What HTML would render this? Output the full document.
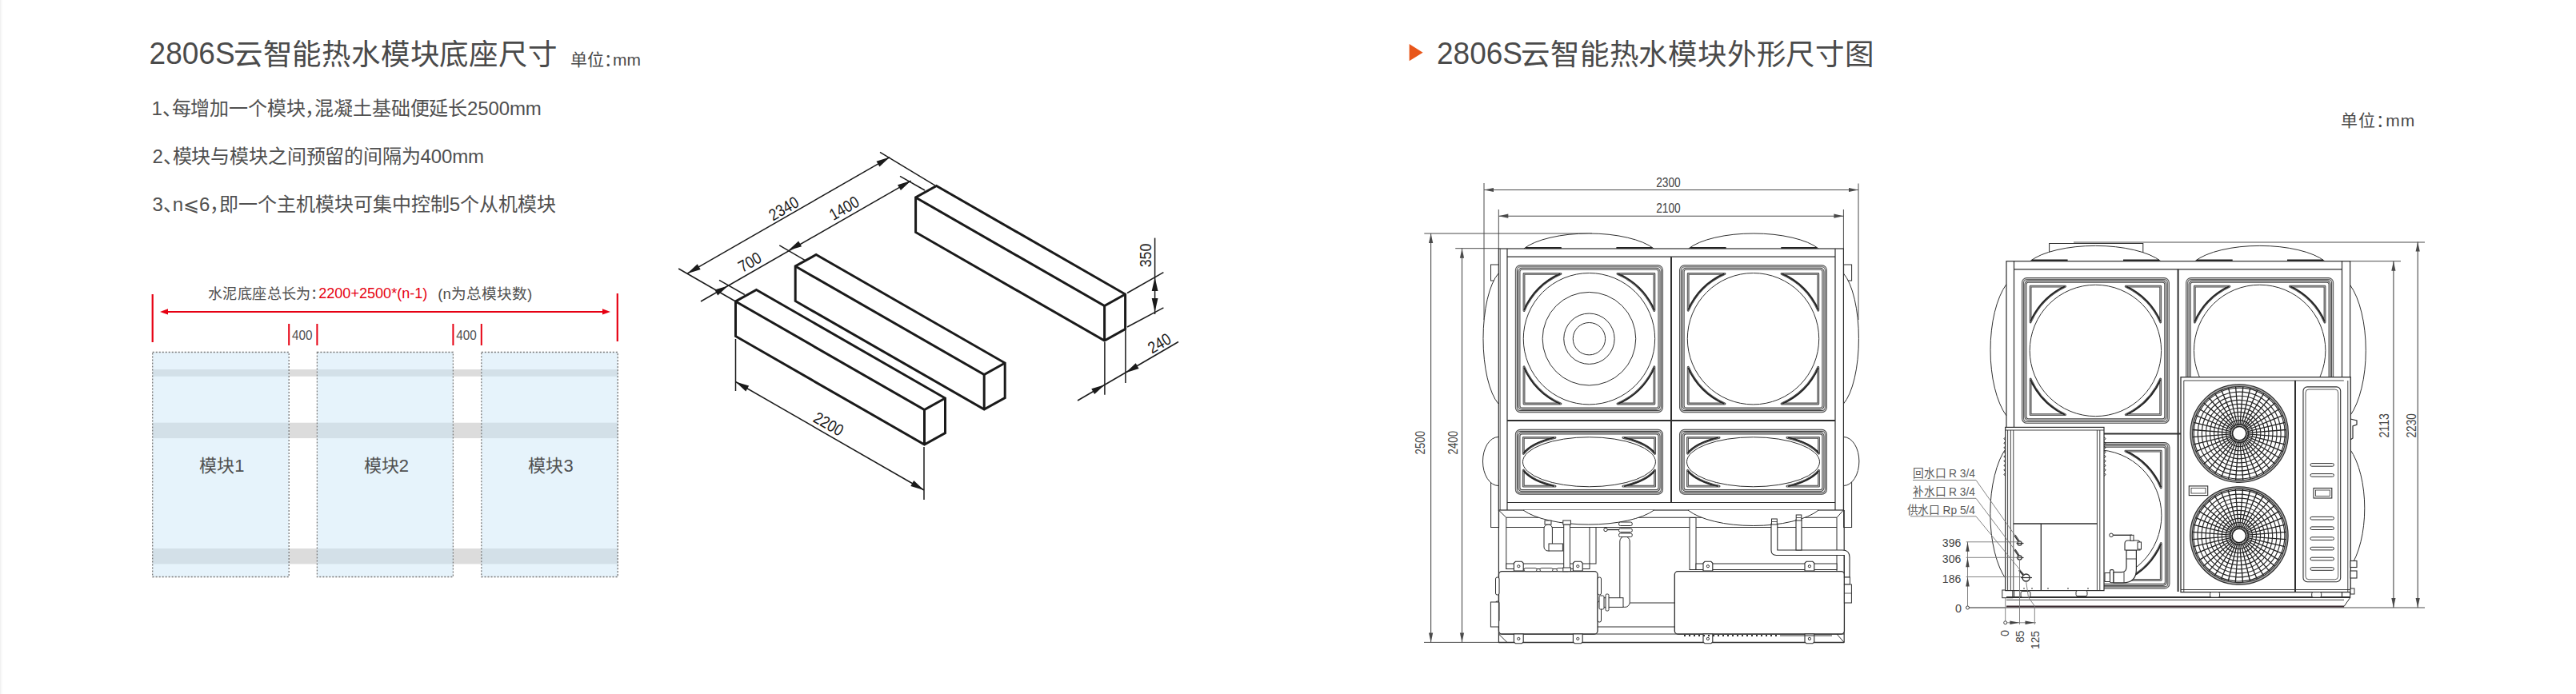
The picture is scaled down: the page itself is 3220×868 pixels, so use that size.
<!DOCTYPE html>
<html lang="zh-CN"><head><meta charset="utf-8"><title>2806S</title>
<style>html,body{margin:0;padding:0;background:#fff;width:3220px;height:868px;overflow:hidden}
svg{position:absolute;left:0;top:0;font-family:"Liberation Sans",sans-serif}</style></head>
<body><svg width="3220" height="868" viewBox="0 0 3220 868">
<rect x="0" y="0" width="1" height="868" rx="0" stroke="none" stroke-width="0" fill="#f1f1f1"/>
<rect x="1" y="0" width="2" height="868" rx="0" stroke="none" stroke-width="0" fill="#f9f9f9"/>
<g style="font-feature-settings:'halt'">
<text x="186.6" y="79.9" font-size="39.6" fill="#4a4a4a" text-anchor="start" textLength="107" lengthAdjust="spacingAndGlyphs">2806S</text>
<text x="291.8" y="81" font-size="36.5" fill="#4a4a4a" text-anchor="start" textLength="404">云智能热水模块底座尺寸</text>
<text x="713" y="82" font-size="21" fill="#4a4a4a" text-anchor="start">单位：mm</text>
<text x="189.5" y="144" font-size="24" fill="#505050" text-anchor="start" textLength="487.3">1、每增加一个模块，混凝土基础便延长2500mm</text>
<text x="190.5" y="204" font-size="24" fill="#505050" text-anchor="start" textLength="414.6">2、模块与模块之间预留的间隔为400mm</text>
<text x="190.5" y="264" font-size="24" fill="#505050" text-anchor="start" textLength="504.4">3、n⩽6，即一个主机模块可集中控制5个从机模块</text>
<text x="1796" y="79.9" font-size="39.6" fill="#4a4a4a" text-anchor="start" textLength="107" lengthAdjust="spacingAndGlyphs">2806S</text>
<text x="1901.4" y="81" font-size="36.5" fill="#4a4a4a" text-anchor="start" textLength="440.5">云智能热水模块外形尺寸图</text>
<text x="2926" y="157.5" font-size="21" fill="#4a4a4a" text-anchor="start" textLength="92.3">单位：mm</text>
</g>
<polygon points="1761.6,55.1 1778.6,65.7 1761.6,76.3" stroke="none" stroke-width="0" fill="#e8561a"/>
<rect x="361.2" y="462" width="35.2" height="8.8" rx="0" stroke="none" stroke-width="0" fill="#dcdcdc"/>
<rect x="361.2" y="528.7" width="35.2" height="19.4" rx="0" stroke="none" stroke-width="0" fill="#dcdcdc"/>
<rect x="361.2" y="686" width="35.2" height="19.4" rx="0" stroke="none" stroke-width="0" fill="#dcdcdc"/>
<rect x="566.4" y="462" width="35.4" height="8.8" rx="0" stroke="none" stroke-width="0" fill="#dcdcdc"/>
<rect x="566.4" y="528.7" width="35.4" height="19.4" rx="0" stroke="none" stroke-width="0" fill="#dcdcdc"/>
<rect x="566.4" y="686" width="35.4" height="19.4" rx="0" stroke="none" stroke-width="0" fill="#dcdcdc"/>
<rect x="190.7" y="440.5" width="170.5" height="281" rx="0" stroke="none" stroke-width="0" fill="#e6f3fb"/>
<rect x="190.7" y="462" width="170.5" height="8.8" rx="0" stroke="none" stroke-width="0" fill="#d3e0e8"/>
<rect x="190.7" y="528.7" width="170.5" height="19.4" rx="0" stroke="none" stroke-width="0" fill="#d3e0e8"/>
<rect x="190.7" y="686" width="170.5" height="19.4" rx="0" stroke="none" stroke-width="0" fill="#d3e0e8"/>
<rect x="190.7" y="440.5" width="170.5" height="281" rx="0" stroke="#7a7a7a" stroke-width="1.3" fill="none" stroke-dasharray="2.1,1.9"/>
<text x="277.45" y="590.3" font-size="22" fill="#505050" text-anchor="middle">模块1</text>
<rect x="396.4" y="440.5" width="170" height="281" rx="0" stroke="none" stroke-width="0" fill="#e6f3fb"/>
<rect x="396.4" y="462" width="170" height="8.8" rx="0" stroke="none" stroke-width="0" fill="#d3e0e8"/>
<rect x="396.4" y="528.7" width="170" height="19.4" rx="0" stroke="none" stroke-width="0" fill="#d3e0e8"/>
<rect x="396.4" y="686" width="170" height="19.4" rx="0" stroke="none" stroke-width="0" fill="#d3e0e8"/>
<rect x="396.4" y="440.5" width="170" height="281" rx="0" stroke="#7a7a7a" stroke-width="1.3" fill="none" stroke-dasharray="2.1,1.9"/>
<text x="482.9" y="590.3" font-size="22" fill="#505050" text-anchor="middle">模块2</text>
<rect x="601.8" y="440.5" width="170.4" height="281" rx="0" stroke="none" stroke-width="0" fill="#e6f3fb"/>
<rect x="601.8" y="462" width="170.4" height="8.8" rx="0" stroke="none" stroke-width="0" fill="#d3e0e8"/>
<rect x="601.8" y="528.7" width="170.4" height="19.4" rx="0" stroke="none" stroke-width="0" fill="#d3e0e8"/>
<rect x="601.8" y="686" width="170.4" height="19.4" rx="0" stroke="none" stroke-width="0" fill="#d3e0e8"/>
<rect x="601.8" y="440.5" width="170.4" height="281" rx="0" stroke="#7a7a7a" stroke-width="1.3" fill="none" stroke-dasharray="2.1,1.9"/>
<text x="688.5" y="590.3" font-size="22" fill="#505050" text-anchor="middle">模块3</text>
<line x1="190.7" y1="368" x2="190.7" y2="428" stroke="#e60012" stroke-width="2.2"/>
<line x1="771.8" y1="367" x2="771.8" y2="427" stroke="#e60012" stroke-width="2.2"/>
<line x1="206" y1="389.9" x2="757" y2="389.9" stroke="#e60012" stroke-width="2"/>
<polygon points="200,389.9 210,386.3 210,393.5" stroke="none" stroke-width="0" fill="#e60012"/>
<polygon points="763,389.9 753,393.5 753,386.3" stroke="none" stroke-width="0" fill="#e60012"/>
<line x1="361.2" y1="405" x2="361.2" y2="432" stroke="#e60012" stroke-width="2"/>
<line x1="396.4" y1="405" x2="396.4" y2="432" stroke="#e60012" stroke-width="2"/>
<text x="365" y="424.5" font-size="16.5" fill="#505050" text-anchor="start" textLength="25.5" lengthAdjust="spacingAndGlyphs">400</text>
<line x1="566.4" y1="405" x2="566.4" y2="432" stroke="#e60012" stroke-width="2"/>
<line x1="601.8" y1="405" x2="601.8" y2="432" stroke="#e60012" stroke-width="2"/>
<text x="570.3" y="424.5" font-size="16.5" fill="#505050" text-anchor="start" textLength="25.5" lengthAdjust="spacingAndGlyphs">400</text>
<g style="font-feature-settings:'halt'">
<text x="259.8" y="374" font-size="18.7" fill="#505050" textLength="129" lengthAdjust="spacingAndGlyphs">水泥底座总长为</text>
<text x="393.2" y="374" font-size="18.7" fill="#505050" text-anchor="middle">：</text>
<text x="398.2" y="373.2" font-size="18.7" fill="#e60012" textLength="136.2" lengthAdjust="spacingAndGlyphs">2200+2500*(n-1)</text>
<text x="547.3" y="374" font-size="18.7" fill="#505050">(n为总模块数)</text>
</g>
<polygon points="945.5,362.5 1181.5,498 1181.5,541.5 1155.5,556 919.5,420.5 919.5,377" stroke="#1a1a1a" stroke-width="3" fill="none" stroke-linejoin="miter"/>
<polyline points="919.5,377 1155.5,512.5 1181.5,498" stroke="#1a1a1a" stroke-width="3" fill="none"/>
<line x1="1155.5" y1="512.5" x2="1155.5" y2="556" stroke="#1a1a1a" stroke-width="3"/>
<polygon points="1020.2,318.5 1256.2,454 1256.2,497.5 1230.2,512 994.2,376.5 994.2,333" stroke="#1a1a1a" stroke-width="3" fill="none" stroke-linejoin="miter"/>
<polyline points="994.2,333 1230.2,468.5 1256.2,454" stroke="#1a1a1a" stroke-width="3" fill="none"/>
<line x1="1230.2" y1="468.5" x2="1230.2" y2="512" stroke="#1a1a1a" stroke-width="3"/>
<polygon points="1170.6,232.5 1406.6,368 1406.6,411.5 1380.6,426 1144.6,290.5 1144.6,247" stroke="#1a1a1a" stroke-width="3" fill="none" stroke-linejoin="miter"/>
<polyline points="1144.6,247 1380.6,382.5 1406.6,368" stroke="#1a1a1a" stroke-width="3" fill="none"/>
<line x1="1380.6" y1="382.5" x2="1380.6" y2="426" stroke="#1a1a1a" stroke-width="3"/>
<line x1="848.2" y1="336" x2="919.5" y2="377" stroke="#1a1a1a" stroke-width="1.5"/>
<line x1="899" y1="350.4" x2="930.8" y2="368.5" stroke="#1a1a1a" stroke-width="1.5"/>
<line x1="974.3" y1="306.8" x2="1006" y2="325.3" stroke="#1a1a1a" stroke-width="1.5"/>
<line x1="1100" y1="190.4" x2="1168.7" y2="231.9" stroke="#1a1a1a" stroke-width="1.5"/>
<line x1="1125" y1="220.4" x2="1156" y2="238" stroke="#1a1a1a" stroke-width="1.5"/>
<line x1="859" y1="342.2" x2="1112.2" y2="196.6" stroke="#1a1a1a" stroke-width="1.5"/>
<polygon points="859,342.2 871.77,330.32 875.67,337.08" stroke="none" stroke-width="0" fill="#1a1a1a"/>
<polygon points="1112.2,196.6 1099.43,208.48 1095.53,201.72" stroke="none" stroke-width="0" fill="#1a1a1a"/>
<line x1="876" y1="377" x2="1138.7" y2="226.1" stroke="#1a1a1a" stroke-width="1.5"/>
<polygon points="910,357.5 897.23,369.38 893.33,362.62" stroke="none" stroke-width="0" fill="#1a1a1a"/>
<polygon points="985.4,313.3 998.17,301.42 1002.07,308.18" stroke="none" stroke-width="0" fill="#1a1a1a"/>
<polygon points="1138.7,226.1 1125.93,237.98 1122.03,231.22" stroke="none" stroke-width="0" fill="#1a1a1a"/>
<text x="0" y="0" font-size="20.5" fill="#1a1a1a" text-anchor="middle" dominant-baseline="central" textLength="39" lengthAdjust="spacingAndGlyphs" transform="translate(979.5 260.5) rotate(-30)">2340</text>
<text x="0" y="0" font-size="20.5" fill="#1a1a1a" text-anchor="middle" dominant-baseline="central" textLength="39" lengthAdjust="spacingAndGlyphs" transform="translate(1055 260) rotate(-30)">1400</text>
<text x="0" y="0" font-size="20.5" fill="#1a1a1a" text-anchor="middle" dominant-baseline="central" textLength="29.5" lengthAdjust="spacingAndGlyphs" transform="translate(937 327.5) rotate(-30)">700</text>
<line x1="919.5" y1="424" x2="919.5" y2="489" stroke="#1a1a1a" stroke-width="1.5"/>
<line x1="1155" y1="559" x2="1155" y2="625" stroke="#1a1a1a" stroke-width="1.5"/>
<line x1="919.5" y1="477.5" x2="1155" y2="613" stroke="#1a1a1a" stroke-width="1.5"/>
<polygon points="919.5,477.5 936.17,482.62 932.27,489.38" stroke="none" stroke-width="0" fill="#1a1a1a"/>
<polygon points="1155,613 1138.33,607.88 1142.23,601.12" stroke="none" stroke-width="0" fill="#1a1a1a"/>
<text x="0" y="0" font-size="20.5" fill="#1a1a1a" text-anchor="middle" dominant-baseline="central" textLength="39" lengthAdjust="spacingAndGlyphs" transform="translate(1036 530) rotate(30)">2200</text>
<line x1="1409" y1="366.5" x2="1454.4" y2="340.7" stroke="#1a1a1a" stroke-width="1.5"/>
<line x1="1409" y1="409" x2="1454.4" y2="384.9" stroke="#1a1a1a" stroke-width="1.5"/>
<line x1="1443.6" y1="297.6" x2="1443.6" y2="393" stroke="#1a1a1a" stroke-width="1.5"/>
<polygon points="1443.6,347 1447.5,364 1439.7,364" stroke="none" stroke-width="0" fill="#1a1a1a"/>
<polygon points="1443.6,390 1439.7,373 1447.5,373" stroke="none" stroke-width="0" fill="#1a1a1a"/>
<text x="0" y="0" font-size="20.5" fill="#1a1a1a" text-anchor="middle" dominant-baseline="central" textLength="29.5" lengthAdjust="spacingAndGlyphs" transform="translate(1431.5 319.5) rotate(-90)">350</text>
<line x1="1380.9" y1="428" x2="1380.9" y2="493.7" stroke="#1a1a1a" stroke-width="1.5"/>
<line x1="1406.9" y1="413" x2="1406.9" y2="479" stroke="#1a1a1a" stroke-width="1.5"/>
<line x1="1347" y1="501" x2="1473" y2="427.5" stroke="#1a1a1a" stroke-width="1.5"/>
<polygon points="1380.9,481.2 1368.13,493.08 1364.23,486.32" stroke="none" stroke-width="0" fill="#1a1a1a"/>
<polygon points="1406.9,466.2 1419.67,454.32 1423.57,461.08" stroke="none" stroke-width="0" fill="#1a1a1a"/>
<text x="0" y="0" font-size="20.5" fill="#1a1a1a" text-anchor="middle" dominant-baseline="central" textLength="29.5" lengthAdjust="spacingAndGlyphs" transform="translate(1449 429) rotate(-30)">240</text>
<line x1="1855" y1="229" x2="1855" y2="400" stroke="#4a4a4a" stroke-width="1"/>
<line x1="2323" y1="229.5" x2="2323" y2="400" stroke="#4a4a4a" stroke-width="1"/>
<line x1="1855" y1="237.5" x2="2323" y2="237.5" stroke="#4a4a4a" stroke-width="1.1"/>
<polygon points="1855,237.5 1867,234.9 1867,240.1" stroke="none" stroke-width="0" fill="#4a4a4a"/>
<polygon points="2323,237.5 2311,240.1 2311,234.9" stroke="none" stroke-width="0" fill="#4a4a4a"/>
<line x1="1873.3" y1="262" x2="1873.3" y2="311" stroke="#4a4a4a" stroke-width="1"/>
<line x1="2304.4" y1="262" x2="2304.4" y2="311" stroke="#4a4a4a" stroke-width="1"/>
<line x1="1873.3" y1="270.2" x2="2304.4" y2="270.2" stroke="#4a4a4a" stroke-width="1.1"/>
<polygon points="1873.3,270.2 1885.3,267.6 1885.3,272.8" stroke="none" stroke-width="0" fill="#4a4a4a"/>
<polygon points="2304.4,270.2 2292.4,272.8 2292.4,267.6" stroke="none" stroke-width="0" fill="#4a4a4a"/>
<text x="0" y="0" font-size="16.5" fill="#444" text-anchor="middle" dominant-baseline="central" textLength="30.5" lengthAdjust="spacingAndGlyphs" transform="translate(2085.4 227.5) rotate(0)">2300</text>
<text x="0" y="0" font-size="16.5" fill="#444" text-anchor="middle" dominant-baseline="central" textLength="30.5" lengthAdjust="spacingAndGlyphs" transform="translate(2085.4 259.9) rotate(0)">2100</text>
<line x1="1780.3" y1="292" x2="1990" y2="292" stroke="#4a4a4a" stroke-width="1"/>
<line x1="1819.2" y1="310.7" x2="1873" y2="310.7" stroke="#4a4a4a" stroke-width="1"/>
<line x1="1780" y1="803.4" x2="1875" y2="803.4" stroke="#4a4a4a" stroke-width="1"/>
<line x1="1788.6" y1="292" x2="1788.6" y2="803.6" stroke="#4a4a4a" stroke-width="1.1"/>
<polygon points="1788.6,292 1791.2,304 1786,304" stroke="none" stroke-width="0" fill="#4a4a4a"/>
<polygon points="1788.6,803.6 1786,791.6 1791.2,791.6" stroke="none" stroke-width="0" fill="#4a4a4a"/>
<line x1="1827.5" y1="310.7" x2="1827.5" y2="803.6" stroke="#4a4a4a" stroke-width="1.1"/>
<polygon points="1827.5,310.7 1830.1,322.7 1824.9,322.7" stroke="none" stroke-width="0" fill="#4a4a4a"/>
<polygon points="1827.5,803.6 1824.9,791.6 1830.1,791.6" stroke="none" stroke-width="0" fill="#4a4a4a"/>
<text x="0" y="0" font-size="16.5" fill="#444" text-anchor="middle" dominant-baseline="central" textLength="29.5" lengthAdjust="spacingAndGlyphs" transform="translate(1775 553.7) rotate(-90)">2500</text>
<text x="0" y="0" font-size="16.5" fill="#444" text-anchor="middle" dominant-baseline="central" textLength="29.5" lengthAdjust="spacingAndGlyphs" transform="translate(1815.5 553.7) rotate(-90)">2400</text>
<rect x="1863.5" y="331" width="10" height="20" rx="0" stroke="#2e2e2e" stroke-width="1" fill="#fff"/>
<rect x="2304.6" y="331" width="10" height="20" rx="0" stroke="#2e2e2e" stroke-width="1" fill="#fff"/>
<rect x="1863.6" y="600" width="10" height="59.5" rx="0" stroke="#2e2e2e" stroke-width="1" fill="#fff"/>
<rect x="2304.6" y="600" width="10" height="59.5" rx="0" stroke="#2e2e2e" stroke-width="1" fill="#fff"/>
<path d="M1873,342 A30,87.6 0 0 0 1873,505" stroke="#2e2e2e" stroke-width="1" fill="#fff"/>
<path d="M2304.4,342 A30,87.6 0 0 1 2304.4,505" stroke="#2e2e2e" stroke-width="1" fill="#fff"/>
<path d="M1873,546.5 A19.5,30.5 0 0 0 1873,607.5" stroke="#2e2e2e" stroke-width="1" fill="#fff"/>
<path d="M2304.4,546.5 A19.5,30.5 0 0 1 2304.4,607.5" stroke="#2e2e2e" stroke-width="1" fill="#fff"/>
<path d="M1904.8,311 A90,33.27 0 0 1 2067.4,311" stroke="#2e2e2e" stroke-width="1" fill="#fff"/>
<line x1="1906.8" y1="310" x2="1951.8" y2="310" stroke="#222" stroke-width="2.2"/>
<line x1="2020.4" y1="310" x2="2065.4" y2="310" stroke="#222" stroke-width="2.2"/>
<path d="M2110.6,311 A90.05,33.27 0 0 1 2273.3,311" stroke="#2e2e2e" stroke-width="1" fill="#fff"/>
<line x1="2112.6" y1="310" x2="2157.6" y2="310" stroke="#222" stroke-width="2.2"/>
<line x1="2226.3" y1="310" x2="2271.3" y2="310" stroke="#222" stroke-width="2.2"/>
<rect x="1873.3" y="311" width="431.1" height="327" rx="0" stroke="#2e2e2e" stroke-width="1.2" fill="#fff"/>
<line x1="1884" y1="311" x2="1884" y2="638" stroke="#2e2e2e" stroke-width="1.2"/>
<line x1="2294" y1="311" x2="2294" y2="638" stroke="#2e2e2e" stroke-width="1.2"/>
<line x1="1884" y1="321.2" x2="2294" y2="321.2" stroke="#2e2e2e" stroke-width="1.2"/>
<line x1="1884" y1="628.5" x2="2294" y2="628.5" stroke="#2e2e2e" stroke-width="1.2"/>
<line x1="1875.2" y1="311" x2="1875.2" y2="638" stroke="#2e2e2e" stroke-width="0.8"/>
<line x1="2089" y1="321.2" x2="2089" y2="628.5" stroke="#2e2e2e" stroke-width="2"/>
<line x1="1884" y1="526" x2="2294" y2="526" stroke="#2e2e2e" stroke-width="2"/>
<rect x="1895.4" y="332.8" width="182.1" height="181.8" rx="5" stroke="#454545" stroke-width="3.1" fill="none"/>
<rect x="1895.4" y="332.8" width="182.1" height="181.8" rx="5" stroke="#c4c4c4" stroke-width="1.3" fill="none"/>
<rect x="1898.9" y="336.3" width="175.1" height="174.8" rx="3.5" stroke="#454545" stroke-width="3.1" fill="none"/>
<rect x="1898.9" y="336.3" width="175.1" height="174.8" rx="3.5" stroke="#c4c4c4" stroke-width="1.3" fill="none"/>
<path d="M1905,342.4 L1950.98,342.4 A88.7,88.7 0 0 0 1905,388.58 Z" stroke="#4a4a4a" stroke-width="2.8" fill="#fff" stroke-linejoin="round"/>
<path d="M1905,342.4 L1950.98,342.4 A88.7,88.7 0 0 0 1905,388.58 Z" stroke="#b8b8b8" stroke-width="0.9" fill="none" stroke-linejoin="round"/>
<path d="M1950.24,342.4 A89,89 0 0 0 1905,387.83" stroke="#222" stroke-width="1.6" fill="none"/>
<path d="M1905,505 L1950.98,505 A88.7,88.7 0 0 1 1905,458.82 Z" stroke="#4a4a4a" stroke-width="2.8" fill="#fff" stroke-linejoin="round"/>
<path d="M1905,505 L1950.98,505 A88.7,88.7 0 0 1 1905,458.82 Z" stroke="#b8b8b8" stroke-width="0.9" fill="none" stroke-linejoin="round"/>
<path d="M1950.24,505 A89,89 0 0 1 1905,459.57" stroke="#222" stroke-width="1.6" fill="none"/>
<path d="M2067.9,342.4 L2021.92,342.4 A88.7,88.7 0 0 1 2067.9,388.58 Z" stroke="#4a4a4a" stroke-width="2.8" fill="#fff" stroke-linejoin="round"/>
<path d="M2067.9,342.4 L2021.92,342.4 A88.7,88.7 0 0 1 2067.9,388.58 Z" stroke="#b8b8b8" stroke-width="0.9" fill="none" stroke-linejoin="round"/>
<path d="M2022.66,342.4 A89,89 0 0 1 2067.9,387.83" stroke="#222" stroke-width="1.6" fill="none"/>
<path d="M2067.9,505 L2021.92,505 A88.7,88.7 0 0 0 2067.9,458.82 Z" stroke="#4a4a4a" stroke-width="2.8" fill="#fff" stroke-linejoin="round"/>
<path d="M2067.9,505 L2021.92,505 A88.7,88.7 0 0 0 2067.9,458.82 Z" stroke="#b8b8b8" stroke-width="0.9" fill="none" stroke-linejoin="round"/>
<path d="M2022.66,505 A89,89 0 0 0 2067.9,459.57" stroke="#222" stroke-width="1.6" fill="none"/>
<circle cx="1986.45" cy="423.7" r="82.2" stroke="#2e2e2e" stroke-width="1" fill="none"/>
<circle cx="1986.45" cy="423.7" r="58.3" stroke="#2e2e2e" stroke-width="1" fill="none"/>
<circle cx="1986.45" cy="423.7" r="31.7" stroke="#2e2e2e" stroke-width="1" fill="none"/>
<circle cx="1986.45" cy="423.7" r="20.2" stroke="#2e2e2e" stroke-width="1" fill="none"/>
<rect x="2100.6" y="332.8" width="181.8" height="181.8" rx="5" stroke="#454545" stroke-width="3.1" fill="none"/>
<rect x="2100.6" y="332.8" width="181.8" height="181.8" rx="5" stroke="#c4c4c4" stroke-width="1.3" fill="none"/>
<rect x="2104.1" y="336.3" width="174.8" height="174.8" rx="3.5" stroke="#454545" stroke-width="3.1" fill="none"/>
<rect x="2104.1" y="336.3" width="174.8" height="174.8" rx="3.5" stroke="#c4c4c4" stroke-width="1.3" fill="none"/>
<path d="M2110.2,342.4 L2156.03,342.4 A88.7,88.7 0 0 0 2110.2,388.23 Z" stroke="#4a4a4a" stroke-width="2.8" fill="#fff" stroke-linejoin="round"/>
<path d="M2110.2,342.4 L2156.03,342.4 A88.7,88.7 0 0 0 2110.2,388.23 Z" stroke="#b8b8b8" stroke-width="0.9" fill="none" stroke-linejoin="round"/>
<path d="M2155.29,342.4 A89,89 0 0 0 2110.2,387.49" stroke="#222" stroke-width="1.6" fill="none"/>
<path d="M2110.2,505 L2156.03,505 A88.7,88.7 0 0 1 2110.2,459.17 Z" stroke="#4a4a4a" stroke-width="2.8" fill="#fff" stroke-linejoin="round"/>
<path d="M2110.2,505 L2156.03,505 A88.7,88.7 0 0 1 2110.2,459.17 Z" stroke="#b8b8b8" stroke-width="0.9" fill="none" stroke-linejoin="round"/>
<path d="M2155.29,505 A89,89 0 0 1 2110.2,459.91" stroke="#222" stroke-width="1.6" fill="none"/>
<path d="M2272.8,342.4 L2226.97,342.4 A88.7,88.7 0 0 1 2272.8,388.23 Z" stroke="#4a4a4a" stroke-width="2.8" fill="#fff" stroke-linejoin="round"/>
<path d="M2272.8,342.4 L2226.97,342.4 A88.7,88.7 0 0 1 2272.8,388.23 Z" stroke="#b8b8b8" stroke-width="0.9" fill="none" stroke-linejoin="round"/>
<path d="M2227.71,342.4 A89,89 0 0 1 2272.8,387.49" stroke="#222" stroke-width="1.6" fill="none"/>
<path d="M2272.8,505 L2226.97,505 A88.7,88.7 0 0 0 2272.8,459.17 Z" stroke="#4a4a4a" stroke-width="2.8" fill="#fff" stroke-linejoin="round"/>
<path d="M2272.8,505 L2226.97,505 A88.7,88.7 0 0 0 2272.8,459.17 Z" stroke="#b8b8b8" stroke-width="0.9" fill="none" stroke-linejoin="round"/>
<path d="M2227.71,505 A89,89 0 0 0 2272.8,459.91" stroke="#222" stroke-width="1.6" fill="none"/>
<circle cx="2191.5" cy="423.7" r="82.2" stroke="#2e2e2e" stroke-width="1" fill="none"/>
<rect x="1895.4" y="538.4" width="182.1" height="78.7" rx="5" stroke="#454545" stroke-width="3.1" fill="none"/>
<rect x="1895.4" y="538.4" width="182.1" height="78.7" rx="5" stroke="#c4c4c4" stroke-width="1.3" fill="none"/>
<rect x="1898.9" y="541.9" width="175.1" height="71.7" rx="3.5" stroke="#454545" stroke-width="3.1" fill="none"/>
<rect x="1898.9" y="541.9" width="175.1" height="71.7" rx="3.5" stroke="#c4c4c4" stroke-width="1.3" fill="none"/>
<path d="M1904.3,547.3 L1944.05,547.3 A86,35 0 0 0 1904.3,567.4 Z" stroke="#4a4a4a" stroke-width="2.8" fill="#fff" stroke-linejoin="round"/>
<path d="M1904.3,547.3 L1944.05,547.3 A86,35 0 0 0 1904.3,567.4 Z" stroke="#b8b8b8" stroke-width="0.9" fill="none" stroke-linejoin="round"/>
<path d="M1942.79,547.3 A86.3,35.3 0 0 0 1904.3,566.94" stroke="#222" stroke-width="1.6" fill="none"/>
<path d="M1904.3,608.2 L1944.05,608.2 A86,35 0 0 1 1904.3,588.1 Z" stroke="#4a4a4a" stroke-width="2.8" fill="#fff" stroke-linejoin="round"/>
<path d="M1904.3,608.2 L1944.05,608.2 A86,35 0 0 1 1904.3,588.1 Z" stroke="#b8b8b8" stroke-width="0.9" fill="none" stroke-linejoin="round"/>
<path d="M1942.79,608.2 A86.3,35.3 0 0 1 1904.3,588.56" stroke="#222" stroke-width="1.6" fill="none"/>
<path d="M2068.6,547.3 L2028.85,547.3 A86,35 0 0 1 2068.6,567.4 Z" stroke="#4a4a4a" stroke-width="2.8" fill="#fff" stroke-linejoin="round"/>
<path d="M2068.6,547.3 L2028.85,547.3 A86,35 0 0 1 2068.6,567.4 Z" stroke="#b8b8b8" stroke-width="0.9" fill="none" stroke-linejoin="round"/>
<path d="M2030.11,547.3 A86.3,35.3 0 0 1 2068.6,566.94" stroke="#222" stroke-width="1.6" fill="none"/>
<path d="M2068.6,608.2 L2028.85,608.2 A86,35 0 0 0 2068.6,588.1 Z" stroke="#4a4a4a" stroke-width="2.8" fill="#fff" stroke-linejoin="round"/>
<path d="M2068.6,608.2 L2028.85,608.2 A86,35 0 0 0 2068.6,588.1 Z" stroke="#b8b8b8" stroke-width="0.9" fill="none" stroke-linejoin="round"/>
<path d="M2030.11,608.2 A86.3,35.3 0 0 0 2068.6,588.56" stroke="#222" stroke-width="1.6" fill="none"/>
<ellipse cx="1986.45" cy="577.75" rx="83" ry="31" stroke="#2e2e2e" stroke-width="1" fill="none"/>
<rect x="2100.6" y="538.4" width="181.8" height="78.7" rx="5" stroke="#454545" stroke-width="3.1" fill="none"/>
<rect x="2100.6" y="538.4" width="181.8" height="78.7" rx="5" stroke="#c4c4c4" stroke-width="1.3" fill="none"/>
<rect x="2104.1" y="541.9" width="174.8" height="71.7" rx="3.5" stroke="#454545" stroke-width="3.1" fill="none"/>
<rect x="2104.1" y="541.9" width="174.8" height="71.7" rx="3.5" stroke="#c4c4c4" stroke-width="1.3" fill="none"/>
<path d="M2109.5,547.3 L2149.1,547.3 A86,35 0 0 0 2109.5,567.2 Z" stroke="#4a4a4a" stroke-width="2.8" fill="#fff" stroke-linejoin="round"/>
<path d="M2109.5,547.3 L2149.1,547.3 A86,35 0 0 0 2109.5,567.2 Z" stroke="#b8b8b8" stroke-width="0.9" fill="none" stroke-linejoin="round"/>
<path d="M2147.84,547.3 A86.3,35.3 0 0 0 2109.5,566.75" stroke="#222" stroke-width="1.6" fill="none"/>
<path d="M2109.5,608.2 L2149.1,608.2 A86,35 0 0 1 2109.5,588.3 Z" stroke="#4a4a4a" stroke-width="2.8" fill="#fff" stroke-linejoin="round"/>
<path d="M2109.5,608.2 L2149.1,608.2 A86,35 0 0 1 2109.5,588.3 Z" stroke="#b8b8b8" stroke-width="0.9" fill="none" stroke-linejoin="round"/>
<path d="M2147.84,608.2 A86.3,35.3 0 0 1 2109.5,588.75" stroke="#222" stroke-width="1.6" fill="none"/>
<path d="M2273.5,547.3 L2233.9,547.3 A86,35 0 0 1 2273.5,567.2 Z" stroke="#4a4a4a" stroke-width="2.8" fill="#fff" stroke-linejoin="round"/>
<path d="M2273.5,547.3 L2233.9,547.3 A86,35 0 0 1 2273.5,567.2 Z" stroke="#b8b8b8" stroke-width="0.9" fill="none" stroke-linejoin="round"/>
<path d="M2235.16,547.3 A86.3,35.3 0 0 1 2273.5,566.75" stroke="#222" stroke-width="1.6" fill="none"/>
<path d="M2273.5,608.2 L2233.9,608.2 A86,35 0 0 0 2273.5,588.3 Z" stroke="#4a4a4a" stroke-width="2.8" fill="#fff" stroke-linejoin="round"/>
<path d="M2273.5,608.2 L2233.9,608.2 A86,35 0 0 0 2273.5,588.3 Z" stroke="#b8b8b8" stroke-width="0.9" fill="none" stroke-linejoin="round"/>
<path d="M2235.16,608.2 A86.3,35.3 0 0 0 2273.5,588.75" stroke="#222" stroke-width="1.6" fill="none"/>
<ellipse cx="2191.5" cy="577.75" rx="83" ry="31" stroke="#2e2e2e" stroke-width="1" fill="none"/>
<line x1="1873.3" y1="638" x2="1882.8" y2="647.3" stroke="#2e2e2e" stroke-width="1"/>
<line x1="2304.4" y1="638" x2="2296" y2="647.3" stroke="#2e2e2e" stroke-width="1"/>
<line x1="1882.8" y1="647.3" x2="2296" y2="647.3" stroke="#2e2e2e" stroke-width="1.1"/>
<line x1="1882.8" y1="659.5" x2="2296" y2="659.5" stroke="#2e2e2e" stroke-width="1.1"/>
<line x1="1873.4" y1="638" x2="1873.4" y2="803.5" stroke="#2e2e2e" stroke-width="1.2"/>
<line x1="1882.8" y1="647.3" x2="1882.8" y2="712" stroke="#2e2e2e" stroke-width="1"/>
<line x1="2305.2" y1="638" x2="2305.2" y2="803.5" stroke="#2e2e2e" stroke-width="1.2"/>
<line x1="2296" y1="647.3" x2="2296" y2="793" stroke="#2e2e2e" stroke-width="1"/>
<rect x="1987" y="659.5" width="8" height="45.5" rx="0" stroke="#2e2e2e" stroke-width="1" fill="#fff"/>
<rect x="2112" y="647.5" width="8" height="65" rx="0" stroke="#2e2e2e" stroke-width="1" fill="#fff"/>
<rect x="1882.8" y="705" width="104.2" height="6.5" rx="0" stroke="#2e2e2e" stroke-width="1" fill="#fff"/>
<rect x="2120" y="705" width="176" height="7.5" rx="0" stroke="#2e2e2e" stroke-width="1" fill="#fff"/>
<line x1="1873.4" y1="803.5" x2="2305.2" y2="803.5" stroke="#2e2e2e" stroke-width="1.3"/>
<line x1="1873.4" y1="793" x2="2305.2" y2="793" stroke="#2e2e2e" stroke-width="1"/>
<line x1="1997" y1="784" x2="2093" y2="784" stroke="#2e2e2e" stroke-width="1"/>
<line x1="2037" y1="754" x2="2093" y2="754" stroke="#2e2e2e" stroke-width="1"/>
<line x1="1873.4" y1="793" x2="1884" y2="803.5" stroke="#2e2e2e" stroke-width="1"/>
<line x1="2296" y1="793" x2="2305.2" y2="803.5" stroke="#2e2e2e" stroke-width="1"/>
<path d="M1904,638 A90.55,31.52 0 0 0 2067.6,638" stroke="#2e2e2e" stroke-width="1" fill="#fff"/>
<path d="M2110,638 A90.39,34.15 0 0 0 2273.3,638" stroke="#2e2e2e" stroke-width="1" fill="#fff"/>
<rect x="1873.5" y="714.7" width="123.5" height="78.3" rx="4" stroke="#2e2e2e" stroke-width="1.3" fill="#fff"/>
<rect x="2093.3" y="714.7" width="212.1" height="78.3" rx="4" stroke="#2e2e2e" stroke-width="1.3" fill="#fff"/>
<rect x="1869.5" y="722" width="4.5" height="22" rx="2" stroke="#2e2e2e" stroke-width="1" fill="#fff"/>
<rect x="1869.5" y="752" width="4.5" height="26" rx="2" stroke="#2e2e2e" stroke-width="1" fill="#fff"/>
<rect x="1863.4" y="753" width="10" height="31" rx="0" stroke="#2e2e2e" stroke-width="1" fill="#fff"/>
<rect x="1997" y="722" width="4.5" height="22" rx="2" stroke="#2e2e2e" stroke-width="1" fill="#fff"/>
<rect x="1997" y="752" width="4.5" height="26" rx="2" stroke="#2e2e2e" stroke-width="1" fill="#fff"/>
<path d="M1892.4,714.1 L1892.4,704.3 L1894.4,702.3 L1902.2,702.3 L1904.2,704.3 L1904.2,714.1 Z" stroke="#2e2e2e" stroke-width="1.1" fill="#fff"/>
<circle cx="1898.3" cy="708.2" r="1.6" stroke="#2e2e2e" stroke-width="1" fill="none"/>
<path d="M1892.4,793 L1892.4,802.8 L1894.4,804.8 L1902.2,804.8 L1904.2,802.8 L1904.2,793 Z" stroke="#2e2e2e" stroke-width="1.1" fill="#fff"/>
<circle cx="1898.3" cy="798.9" r="1.6" stroke="#2e2e2e" stroke-width="1" fill="none"/>
<path d="M1966.4,714.1 L1966.4,704.3 L1968.4,702.3 L1976.2,702.3 L1978.2,704.3 L1978.2,714.1 Z" stroke="#2e2e2e" stroke-width="1.1" fill="#fff"/>
<circle cx="1972.3" cy="708.2" r="1.6" stroke="#2e2e2e" stroke-width="1" fill="none"/>
<path d="M1966.4,793 L1966.4,802.8 L1968.4,804.8 L1976.2,804.8 L1978.2,802.8 L1978.2,793 Z" stroke="#2e2e2e" stroke-width="1.1" fill="#fff"/>
<circle cx="1972.3" cy="798.9" r="1.6" stroke="#2e2e2e" stroke-width="1" fill="none"/>
<path d="M2129,714.1 L2129,704.3 L2131,702.3 L2138.8,702.3 L2140.8,704.3 L2140.8,714.1 Z" stroke="#2e2e2e" stroke-width="1.1" fill="#fff"/>
<circle cx="2134.9" cy="708.2" r="1.6" stroke="#2e2e2e" stroke-width="1" fill="none"/>
<path d="M2129,793 L2129,802.8 L2131,804.8 L2138.8,804.8 L2140.8,802.8 L2140.8,793 Z" stroke="#2e2e2e" stroke-width="1.1" fill="#fff"/>
<circle cx="2134.9" cy="798.9" r="1.6" stroke="#2e2e2e" stroke-width="1" fill="none"/>
<path d="M2256,714.1 L2256,704.3 L2258,702.3 L2265.8,702.3 L2267.8,704.3 L2267.8,714.1 Z" stroke="#2e2e2e" stroke-width="1.1" fill="#fff"/>
<circle cx="2261.9" cy="708.2" r="1.6" stroke="#2e2e2e" stroke-width="1" fill="none"/>
<path d="M2256,793 L2256,802.8 L2258,804.8 L2265.8,804.8 L2267.8,802.8 L2267.8,793 Z" stroke="#2e2e2e" stroke-width="1.1" fill="#fff"/>
<circle cx="2261.9" cy="798.9" r="1.6" stroke="#2e2e2e" stroke-width="1" fill="none"/>
<rect x="1905" y="710.5" width="16" height="4.2" rx="2" stroke="#2e2e2e" stroke-width="0.9" fill="#fff"/>
<rect x="1925" y="710.5" width="16" height="4.2" rx="2" stroke="#2e2e2e" stroke-width="0.9" fill="#fff"/>
<rect x="1946" y="710.5" width="16" height="4.2" rx="2" stroke="#2e2e2e" stroke-width="0.9" fill="#fff"/>
<line x1="2105" y1="795" x2="2225" y2="795" stroke="#333" stroke-width="2.2" stroke-dasharray="2,4"/>
<line x1="2225" y1="795" x2="2290" y2="795" stroke="#2e2e2e" stroke-width="1.2"/>
<rect x="1930" y="656" width="10.4" height="33" rx="5" stroke="#2e2e2e" stroke-width="1" fill="#fff"/>
<rect x="1936" y="680" width="17.4" height="9" rx="0" stroke="#2e2e2e" stroke-width="1" fill="#fff"/>
<rect x="1931" y="651" width="8" height="5" rx="0" stroke="#2e2e2e" stroke-width="1" fill="#fff"/>
<rect x="1954.7" y="656" width="7.8" height="56.6" rx="0" stroke="#2e2e2e" stroke-width="1" fill="#fff"/>
<rect x="1953.8" y="651" width="9.6" height="5" rx="0" stroke="#2e2e2e" stroke-width="1" fill="#fff"/>
<rect x="1953.8" y="710" width="9.6" height="4.7" rx="0" stroke="#2e2e2e" stroke-width="1" fill="#fff"/>
<rect x="2024.8" y="671" width="12.4" height="88.4" rx="6" stroke="#2e2e2e" stroke-width="1" fill="#fff"/>
<rect x="2003" y="747.7" width="26" height="11.7" rx="0" stroke="#2e2e2e" stroke-width="1" fill="#fff"/>
<rect x="1999" y="745" width="6" height="17" rx="1.5" stroke="#2e2e2e" stroke-width="1" fill="#fff"/>
<rect x="2007" y="743" width="4" height="21" rx="1.5" stroke="#2e2e2e" stroke-width="1" fill="#fff"/>
<rect x="2023.5" y="653" width="16.8" height="4.5" rx="2" stroke="#2e2e2e" stroke-width="1" fill="#fff"/>
<rect x="2023.5" y="661" width="16.8" height="4.5" rx="2" stroke="#2e2e2e" stroke-width="1" fill="#fff"/>
<rect x="2023.5" y="667" width="16.8" height="4.5" rx="2" stroke="#2e2e2e" stroke-width="1" fill="#fff"/>
<line x1="2008" y1="662.5" x2="2023.5" y2="662.5" stroke="#2e2e2e" stroke-width="1.4"/>
<circle cx="2007" cy="662.5" r="2.2" stroke="#2e2e2e" stroke-width="1" fill="#fff"/>
<path d="M2214,655 L2214,688 Q2214,694.5 2220.5,694.5 L2305.4,694.5 L2305.4,722 L2312,722 L2312,697 Q2312,688 2303,688 L2221.8,688 L2221.8,655 Z" stroke="#2e2e2e" stroke-width="1.1" fill="#fff"/>
<rect x="2245" y="650" width="7" height="38" rx="0" stroke="#2e2e2e" stroke-width="1.1" fill="#fff"/>
<rect x="2214.5" y="649" width="6.8" height="7" rx="0" stroke="#2e2e2e" stroke-width="1" fill="#fff"/>
<line x1="2214.5" y1="652.5" x2="2221.3" y2="652.5" stroke="#2e2e2e" stroke-width="0.8"/>
<rect x="2245.2" y="644" width="6.6" height="7" rx="0" stroke="#2e2e2e" stroke-width="1" fill="#fff"/>
<line x1="2245.2" y1="647.5" x2="2251.8" y2="647.5" stroke="#2e2e2e" stroke-width="0.8"/>
<rect x="2305.4" y="722" width="7" height="9" rx="0" stroke="#2e2e2e" stroke-width="1" fill="#fff"/>
<rect x="2305.4" y="731" width="9" height="23" rx="0" stroke="#2e2e2e" stroke-width="1" fill="#fff"/>
<line x1="2305.4" y1="742" x2="2314.4" y2="742" stroke="#2e2e2e" stroke-width="0.8"/>
<rect x="2561.6" y="304.5" width="117.2" height="22.2" rx="0" stroke="#2e2e2e" stroke-width="1" fill="#fff"/>
<path d="M2537.6,326.7 A90.44,33.8 0 0 1 2701,326.7" stroke="#2e2e2e" stroke-width="1" fill="#fff"/>
<line x1="2539.6" y1="325.7" x2="2584.6" y2="325.7" stroke="#222" stroke-width="2.2"/>
<line x1="2654" y1="325.7" x2="2699" y2="325.7" stroke="#222" stroke-width="2.2"/>
<path d="M2743.7,326.7 A89.83,33.8 0 0 1 2906,326.7" stroke="#2e2e2e" stroke-width="1" fill="#fff"/>
<line x1="2745.7" y1="325.7" x2="2790.7" y2="325.7" stroke="#222" stroke-width="2.2"/>
<line x1="2859" y1="325.7" x2="2904" y2="325.7" stroke="#222" stroke-width="2.2"/>
<line x1="2592" y1="303" x2="3031" y2="303" stroke="#4a4a4a" stroke-width="1"/>
<line x1="2938" y1="326.7" x2="3001" y2="326.7" stroke="#4a4a4a" stroke-width="1"/>
<line x1="2457" y1="760" x2="3031" y2="760" stroke="#4a4a4a" stroke-width="1"/>
<line x1="2991.9" y1="326.7" x2="2991.9" y2="760" stroke="#4a4a4a" stroke-width="1.1"/>
<polygon points="2991.9,326.7 2994.5,338.7 2989.3,338.7" stroke="none" stroke-width="0" fill="#4a4a4a"/>
<polygon points="2991.9,760 2989.3,748 2994.5,748" stroke="none" stroke-width="0" fill="#4a4a4a"/>
<line x1="3022.2" y1="302.5" x2="3022.2" y2="760" stroke="#4a4a4a" stroke-width="1.1"/>
<polygon points="3022.2,302.5 3024.8,314.5 3019.6,314.5" stroke="none" stroke-width="0" fill="#4a4a4a"/>
<polygon points="3022.2,760 3019.6,748 3024.8,748" stroke="none" stroke-width="0" fill="#4a4a4a"/>
<text x="0" y="0" font-size="16.5" fill="#444" text-anchor="middle" dominant-baseline="central" textLength="30.5" lengthAdjust="spacingAndGlyphs" transform="translate(2979.8 532.3) rotate(-90)">2113</text>
<text x="0" y="0" font-size="16.5" fill="#444" text-anchor="middle" dominant-baseline="central" textLength="30.5" lengthAdjust="spacingAndGlyphs" transform="translate(3013.5 532.3) rotate(-90)">2230</text>
<path d="M2508,355.5 A40,95 0 0 0 2508,520" stroke="#2e2e2e" stroke-width="1" fill="#fff"/>
<path d="M2508,560 A40,95 0 0 0 2508,725" stroke="#2e2e2e" stroke-width="1" fill="#fff"/>
<path d="M2937.6,356.4 A40,95 0 0 1 2937.6,520" stroke="#2e2e2e" stroke-width="1" fill="#fff"/>
<path d="M2937.6,562 A40,88 0 0 1 2937.6,709.5" stroke="#2e2e2e" stroke-width="1" fill="#fff"/>
<rect x="2508" y="326.7" width="429.6" height="420.3" rx="0" stroke="#2e2e2e" stroke-width="1.2" fill="#fff"/>
<line x1="2517.5" y1="326.7" x2="2517.5" y2="747" stroke="#2e2e2e" stroke-width="1.2"/>
<line x1="2927.5" y1="326.7" x2="2927.5" y2="747" stroke="#2e2e2e" stroke-width="1.2"/>
<line x1="2517.5" y1="336.8" x2="2927.5" y2="336.8" stroke="#2e2e2e" stroke-width="1.2"/>
<line x1="2722.6" y1="336.8" x2="2722.6" y2="740" stroke="#2e2e2e" stroke-width="2"/>
<line x1="2517.5" y1="542.5" x2="2927.5" y2="542.5" stroke="#2e2e2e" stroke-width="2"/>
<rect x="2528.5" y="348.6" width="181.8" height="179.7" rx="5" stroke="#454545" stroke-width="3.1" fill="none"/>
<rect x="2528.5" y="348.6" width="181.8" height="179.7" rx="5" stroke="#c4c4c4" stroke-width="1.3" fill="none"/>
<rect x="2532" y="352.1" width="174.8" height="172.7" rx="3.5" stroke="#454545" stroke-width="3.1" fill="none"/>
<rect x="2532" y="352.1" width="174.8" height="172.7" rx="3.5" stroke="#c4c4c4" stroke-width="1.3" fill="none"/>
<path d="M2538.1,358.2 L2581.62,358.2 A88.7,88.7 0 0 0 2538.1,402.98 Z" stroke="#4a4a4a" stroke-width="2.8" fill="#fff" stroke-linejoin="round"/>
<path d="M2538.1,358.2 L2581.62,358.2 A88.7,88.7 0 0 0 2538.1,402.98 Z" stroke="#b8b8b8" stroke-width="0.9" fill="none" stroke-linejoin="round"/>
<path d="M2580.92,358.2 A89,89 0 0 0 2538.1,402.24" stroke="#222" stroke-width="1.6" fill="none"/>
<path d="M2538.1,518.7 L2581.62,518.7 A88.7,88.7 0 0 1 2538.1,473.92 Z" stroke="#4a4a4a" stroke-width="2.8" fill="#fff" stroke-linejoin="round"/>
<path d="M2538.1,518.7 L2581.62,518.7 A88.7,88.7 0 0 1 2538.1,473.92 Z" stroke="#b8b8b8" stroke-width="0.9" fill="none" stroke-linejoin="round"/>
<path d="M2580.92,518.7 A89,89 0 0 1 2538.1,474.66" stroke="#222" stroke-width="1.6" fill="none"/>
<path d="M2700.7,358.2 L2657.18,358.2 A88.7,88.7 0 0 1 2700.7,402.98 Z" stroke="#4a4a4a" stroke-width="2.8" fill="#fff" stroke-linejoin="round"/>
<path d="M2700.7,358.2 L2657.18,358.2 A88.7,88.7 0 0 1 2700.7,402.98 Z" stroke="#b8b8b8" stroke-width="0.9" fill="none" stroke-linejoin="round"/>
<path d="M2657.88,358.2 A89,89 0 0 1 2700.7,402.24" stroke="#222" stroke-width="1.6" fill="none"/>
<path d="M2700.7,518.7 L2657.18,518.7 A88.7,88.7 0 0 0 2700.7,473.92 Z" stroke="#4a4a4a" stroke-width="2.8" fill="#fff" stroke-linejoin="round"/>
<path d="M2700.7,518.7 L2657.18,518.7 A88.7,88.7 0 0 0 2700.7,473.92 Z" stroke="#b8b8b8" stroke-width="0.9" fill="none" stroke-linejoin="round"/>
<path d="M2657.88,518.7 A89,89 0 0 0 2700.7,474.66" stroke="#222" stroke-width="1.6" fill="none"/>
<circle cx="2619.4" cy="438.45" r="82.2" stroke="#2e2e2e" stroke-width="1" fill="none"/>
<rect x="2733.7" y="348.6" width="181.9" height="179.7" rx="5" stroke="#454545" stroke-width="3.1" fill="none"/>
<rect x="2733.7" y="348.6" width="181.9" height="179.7" rx="5" stroke="#c4c4c4" stroke-width="1.3" fill="none"/>
<rect x="2737.2" y="352.1" width="174.9" height="172.7" rx="3.5" stroke="#454545" stroke-width="3.1" fill="none"/>
<rect x="2737.2" y="352.1" width="174.9" height="172.7" rx="3.5" stroke="#c4c4c4" stroke-width="1.3" fill="none"/>
<path d="M2743.3,358.2 L2786.87,358.2 A88.7,88.7 0 0 0 2743.3,403.1 Z" stroke="#4a4a4a" stroke-width="2.8" fill="#fff" stroke-linejoin="round"/>
<path d="M2743.3,358.2 L2786.87,358.2 A88.7,88.7 0 0 0 2743.3,403.1 Z" stroke="#b8b8b8" stroke-width="0.9" fill="none" stroke-linejoin="round"/>
<path d="M2786.17,358.2 A89,89 0 0 0 2743.3,402.35" stroke="#222" stroke-width="1.6" fill="none"/>
<path d="M2743.3,518.7 L2786.87,518.7 A88.7,88.7 0 0 1 2743.3,473.8 Z" stroke="#4a4a4a" stroke-width="2.8" fill="#fff" stroke-linejoin="round"/>
<path d="M2743.3,518.7 L2786.87,518.7 A88.7,88.7 0 0 1 2743.3,473.8 Z" stroke="#b8b8b8" stroke-width="0.9" fill="none" stroke-linejoin="round"/>
<path d="M2786.17,518.7 A89,89 0 0 1 2743.3,474.55" stroke="#222" stroke-width="1.6" fill="none"/>
<path d="M2906,358.2 L2862.43,358.2 A88.7,88.7 0 0 1 2906,403.1 Z" stroke="#4a4a4a" stroke-width="2.8" fill="#fff" stroke-linejoin="round"/>
<path d="M2906,358.2 L2862.43,358.2 A88.7,88.7 0 0 1 2906,403.1 Z" stroke="#b8b8b8" stroke-width="0.9" fill="none" stroke-linejoin="round"/>
<path d="M2863.13,358.2 A89,89 0 0 1 2906,402.35" stroke="#222" stroke-width="1.6" fill="none"/>
<path d="M2906,518.7 L2862.43,518.7 A88.7,88.7 0 0 0 2906,473.8 Z" stroke="#4a4a4a" stroke-width="2.8" fill="#fff" stroke-linejoin="round"/>
<path d="M2906,518.7 L2862.43,518.7 A88.7,88.7 0 0 0 2906,473.8 Z" stroke="#b8b8b8" stroke-width="0.9" fill="none" stroke-linejoin="round"/>
<path d="M2863.13,518.7 A89,89 0 0 0 2906,474.55" stroke="#222" stroke-width="1.6" fill="none"/>
<circle cx="2824.65" cy="438.45" r="82.2" stroke="#2e2e2e" stroke-width="1" fill="none"/>
<rect x="2528.5" y="554.6" width="182.4" height="180.3" rx="5" stroke="#454545" stroke-width="3.1" fill="none"/>
<rect x="2528.5" y="554.6" width="182.4" height="180.3" rx="5" stroke="#c4c4c4" stroke-width="1.3" fill="none"/>
<rect x="2532" y="558.1" width="175.4" height="173.3" rx="3.5" stroke="#454545" stroke-width="3.1" fill="none"/>
<rect x="2532" y="558.1" width="175.4" height="173.3" rx="3.5" stroke="#c4c4c4" stroke-width="1.3" fill="none"/>
<path d="M2538.1,564.2 L2582.56,564.2 A88.7,88.7 0 0 0 2538.1,609.98 Z" stroke="#4a4a4a" stroke-width="2.8" fill="#fff" stroke-linejoin="round"/>
<path d="M2538.1,564.2 L2582.56,564.2 A88.7,88.7 0 0 0 2538.1,609.98 Z" stroke="#b8b8b8" stroke-width="0.9" fill="none" stroke-linejoin="round"/>
<path d="M2581.85,564.2 A89,89 0 0 0 2538.1,609.22" stroke="#222" stroke-width="1.6" fill="none"/>
<path d="M2538.1,725.3 L2582.56,725.3 A88.7,88.7 0 0 1 2538.1,679.52 Z" stroke="#4a4a4a" stroke-width="2.8" fill="#fff" stroke-linejoin="round"/>
<path d="M2538.1,725.3 L2582.56,725.3 A88.7,88.7 0 0 1 2538.1,679.52 Z" stroke="#b8b8b8" stroke-width="0.9" fill="none" stroke-linejoin="round"/>
<path d="M2581.85,725.3 A89,89 0 0 1 2538.1,680.28" stroke="#222" stroke-width="1.6" fill="none"/>
<path d="M2701.3,564.2 L2656.84,564.2 A88.7,88.7 0 0 1 2701.3,609.98 Z" stroke="#4a4a4a" stroke-width="2.8" fill="#fff" stroke-linejoin="round"/>
<path d="M2701.3,564.2 L2656.84,564.2 A88.7,88.7 0 0 1 2701.3,609.98 Z" stroke="#b8b8b8" stroke-width="0.9" fill="none" stroke-linejoin="round"/>
<path d="M2657.55,564.2 A89,89 0 0 1 2701.3,609.22" stroke="#222" stroke-width="1.6" fill="none"/>
<path d="M2701.3,725.3 L2656.84,725.3 A88.7,88.7 0 0 0 2701.3,679.52 Z" stroke="#4a4a4a" stroke-width="2.8" fill="#fff" stroke-linejoin="round"/>
<path d="M2701.3,725.3 L2656.84,725.3 A88.7,88.7 0 0 0 2701.3,679.52 Z" stroke="#b8b8b8" stroke-width="0.9" fill="none" stroke-linejoin="round"/>
<path d="M2657.55,725.3 A89,89 0 0 0 2701.3,680.28" stroke="#222" stroke-width="1.6" fill="none"/>
<circle cx="2619.7" cy="644.75" r="82.2" stroke="#2e2e2e" stroke-width="1" fill="none"/>
<rect x="2733.7" y="554.6" width="181.9" height="180.3" rx="5" stroke="#454545" stroke-width="3.1" fill="none"/>
<rect x="2733.7" y="554.6" width="181.9" height="180.3" rx="5" stroke="#c4c4c4" stroke-width="1.3" fill="none"/>
<rect x="2737.2" y="558.1" width="174.9" height="173.3" rx="3.5" stroke="#454545" stroke-width="3.1" fill="none"/>
<rect x="2737.2" y="558.1" width="174.9" height="173.3" rx="3.5" stroke="#c4c4c4" stroke-width="1.3" fill="none"/>
<path d="M2743.3,564.2 L2787.51,564.2 A88.7,88.7 0 0 0 2743.3,609.4 Z" stroke="#4a4a4a" stroke-width="2.8" fill="#fff" stroke-linejoin="round"/>
<path d="M2743.3,564.2 L2787.51,564.2 A88.7,88.7 0 0 0 2743.3,609.4 Z" stroke="#b8b8b8" stroke-width="0.9" fill="none" stroke-linejoin="round"/>
<path d="M2786.8,564.2 A89,89 0 0 0 2743.3,608.65" stroke="#222" stroke-width="1.6" fill="none"/>
<path d="M2743.3,725.3 L2787.51,725.3 A88.7,88.7 0 0 1 2743.3,680.1 Z" stroke="#4a4a4a" stroke-width="2.8" fill="#fff" stroke-linejoin="round"/>
<path d="M2743.3,725.3 L2787.51,725.3 A88.7,88.7 0 0 1 2743.3,680.1 Z" stroke="#b8b8b8" stroke-width="0.9" fill="none" stroke-linejoin="round"/>
<path d="M2786.8,725.3 A89,89 0 0 1 2743.3,680.85" stroke="#222" stroke-width="1.6" fill="none"/>
<path d="M2906,564.2 L2861.79,564.2 A88.7,88.7 0 0 1 2906,609.4 Z" stroke="#4a4a4a" stroke-width="2.8" fill="#fff" stroke-linejoin="round"/>
<path d="M2906,564.2 L2861.79,564.2 A88.7,88.7 0 0 1 2906,609.4 Z" stroke="#b8b8b8" stroke-width="0.9" fill="none" stroke-linejoin="round"/>
<path d="M2862.5,564.2 A89,89 0 0 1 2906,608.65" stroke="#222" stroke-width="1.6" fill="none"/>
<path d="M2906,725.3 L2861.79,725.3 A88.7,88.7 0 0 0 2906,680.1 Z" stroke="#4a4a4a" stroke-width="2.8" fill="#fff" stroke-linejoin="round"/>
<path d="M2906,725.3 L2861.79,725.3 A88.7,88.7 0 0 0 2906,680.1 Z" stroke="#b8b8b8" stroke-width="0.9" fill="none" stroke-linejoin="round"/>
<path d="M2862.5,725.3 A89,89 0 0 0 2906,680.85" stroke="#222" stroke-width="1.6" fill="none"/>
<circle cx="2824.65" cy="644.75" r="82.2" stroke="#2e2e2e" stroke-width="1" fill="none"/>
<rect x="2502.8" y="738" width="13" height="9.7" rx="0" stroke="#2e2e2e" stroke-width="1" fill="#fff"/>
<line x1="2508" y1="747" x2="2937.6" y2="747" stroke="#2e2e2e" stroke-width="1.8"/>
<line x1="2508" y1="750.3" x2="2930" y2="750.3" stroke="#2e2e2e" stroke-width="0.9"/>
<line x1="2508" y1="758.5" x2="2930" y2="758.5" stroke="#3a2a30" stroke-width="2"/>
<line x1="2930" y1="758.5" x2="2938" y2="747" stroke="#2e2e2e" stroke-width="1"/>
<rect x="2506.7" y="534.4" width="123.3" height="204.2" rx="0" stroke="#2e2e2e" stroke-width="1.2" fill="#fff"/>
<line x1="2509.6" y1="538" x2="2509.6" y2="738.6" stroke="#2e2e2e" stroke-width="0.9"/>
<line x1="2513.3" y1="538" x2="2513.3" y2="738.6" stroke="#2e2e2e" stroke-width="0.9"/>
<line x1="2516.8" y1="538" x2="2516.8" y2="738.6" stroke="#2e2e2e" stroke-width="0.9"/>
<line x1="2621.4" y1="538" x2="2621.4" y2="738.6" stroke="#2e2e2e" stroke-width="0.9"/>
<line x1="2624.8" y1="538" x2="2624.8" y2="738.6" stroke="#2e2e2e" stroke-width="0.9"/>
<line x1="2506.7" y1="538" x2="2630" y2="538" stroke="#2e2e2e" stroke-width="0.9"/>
<line x1="2516.8" y1="655" x2="2621.4" y2="655" stroke="#2e2e2e" stroke-width="1.3"/>
<line x1="2551.3" y1="655" x2="2551.3" y2="738.6" stroke="#2e2e2e" stroke-width="1.3"/>
<path d="M2507,547 q-4,1.5 0,3.5" stroke="#2e2e2e" stroke-width="1" fill="none"/>
<path d="M2630,547 q4,1.5 0,3.5" stroke="#2e2e2e" stroke-width="1" fill="none"/>
<path d="M2507,552.6 q-4,1.5 0,3.5" stroke="#2e2e2e" stroke-width="1" fill="none"/>
<path d="M2630,552.6 q4,1.5 0,3.5" stroke="#2e2e2e" stroke-width="1" fill="none"/>
<path d="M2507,558.2 q-4,1.5 0,3.5" stroke="#2e2e2e" stroke-width="1" fill="none"/>
<path d="M2630,558.2 q4,1.5 0,3.5" stroke="#2e2e2e" stroke-width="1" fill="none"/>
<path d="M2507,563.8 q-4,1.5 0,3.5" stroke="#2e2e2e" stroke-width="1" fill="none"/>
<path d="M2630,563.8 q4,1.5 0,3.5" stroke="#2e2e2e" stroke-width="1" fill="none"/>
<path d="M2507,569.4 q-4,1.5 0,3.5" stroke="#2e2e2e" stroke-width="1" fill="none"/>
<path d="M2630,569.4 q4,1.5 0,3.5" stroke="#2e2e2e" stroke-width="1" fill="none"/>
<path d="M2507,575 q-4,1.5 0,3.5" stroke="#2e2e2e" stroke-width="1" fill="none"/>
<path d="M2630,575 q4,1.5 0,3.5" stroke="#2e2e2e" stroke-width="1" fill="none"/>
<path d="M2507,580.6 q-4,1.5 0,3.5" stroke="#2e2e2e" stroke-width="1" fill="none"/>
<path d="M2630,580.6 q4,1.5 0,3.5" stroke="#2e2e2e" stroke-width="1" fill="none"/>
<path d="M2507,586.2 q-4,1.5 0,3.5" stroke="#2e2e2e" stroke-width="1" fill="none"/>
<path d="M2630,586.2 q4,1.5 0,3.5" stroke="#2e2e2e" stroke-width="1" fill="none"/>
<path d="M2507,591.8 q-4,1.5 0,3.5" stroke="#2e2e2e" stroke-width="1" fill="none"/>
<path d="M2630,591.8 q4,1.5 0,3.5" stroke="#2e2e2e" stroke-width="1" fill="none"/>
<line x1="2530" y1="735" x2="2530" y2="737" stroke="#2e2e2e" stroke-width="1"/>
<line x1="2540" y1="735" x2="2540" y2="737" stroke="#2e2e2e" stroke-width="1"/>
<line x1="2560" y1="735" x2="2560" y2="737" stroke="#2e2e2e" stroke-width="1"/>
<line x1="2585" y1="735" x2="2585" y2="737" stroke="#2e2e2e" stroke-width="1"/>
<line x1="2610" y1="735" x2="2610" y2="737" stroke="#2e2e2e" stroke-width="1"/>
<rect x="2526" y="739.5" width="12" height="7.5" rx="2" stroke="#2e2e2e" stroke-width="1" fill="#fff"/>
<rect x="2595" y="738.6" width="14" height="7" rx="2" stroke="#2e2e2e" stroke-width="1" fill="#fff"/>
<path d="M2518.5,669.5 L2524.5,678.5" stroke="#2e2e2e" stroke-width="2.4" fill="none"/>
<circle cx="2524.5" cy="679.5" r="2.6" stroke="#2e2e2e" stroke-width="1.2" fill="#fff"/>
<line x1="2520.5" y1="679.5" x2="2529.5" y2="679.5" stroke="#2e2e2e" stroke-width="1.2"/>
<path d="M2518.5,687.5 L2524.5,696.5" stroke="#2e2e2e" stroke-width="2.4" fill="none"/>
<circle cx="2524.5" cy="697.5" r="2.6" stroke="#2e2e2e" stroke-width="1.2" fill="#fff"/>
<line x1="2520.5" y1="697.5" x2="2529.5" y2="697.5" stroke="#2e2e2e" stroke-width="1.2"/>
<path d="M2524,713 L2530,720" stroke="#2e2e2e" stroke-width="2.4" fill="none"/>
<circle cx="2532.6" cy="722.5" r="4.5" stroke="#2e2e2e" stroke-width="1.4" fill="#fff"/>
<line x1="2526" y1="722.5" x2="2540" y2="722.5" stroke="#2e2e2e" stroke-width="1.2"/>
<rect x="2631" y="716.5" width="6.5" height="11" rx="0" stroke="#2e2e2e" stroke-width="1" fill="#fff"/>
<rect x="2637.5" y="712.6" width="4.5" height="16.2" rx="1.5" stroke="#2e2e2e" stroke-width="1.1" fill="#fff"/>
<path d="M2642,715.7 L2652,715.7 Q2658,715.7 2658,709 L2658,688 L2670.4,688 L2670.4,712 Q2670.4,728.8 2654,728.8 L2642,728.8 Z" stroke="#2e2e2e" stroke-width="1.2" fill="#fff"/>
<line x1="2655" y1="715.7" x2="2655" y2="728.8" stroke="#2e2e2e" stroke-width="0.9"/>
<line x1="2658" y1="699" x2="2670.4" y2="699" stroke="#2e2e2e" stroke-width="0.9"/>
<path d="M2656,688 L2656,680 Q2656,676 2660,676 L2672,676 Q2675,676 2675,680 L2675,688 Z" stroke="#2e2e2e" stroke-width="1.1" fill="#fff"/>
<rect x="2672" y="678" width="4.5" height="9" rx="0" stroke="#2e2e2e" stroke-width="1" fill="#fff"/>
<line x1="2640" y1="669.3" x2="2665" y2="669.3" stroke="#2e2e2e" stroke-width="1.4"/>
<circle cx="2639" cy="669.3" r="2.3" stroke="#2e2e2e" stroke-width="1" fill="#fff"/>
<rect x="2663" y="669.3" width="4" height="7" rx="0" stroke="#2e2e2e" stroke-width="1" fill="#fff"/>
<rect x="2726" y="471.7" width="212.2" height="268.9" rx="0" stroke="#2e2e2e" stroke-width="1.3" fill="#fff"/>
<line x1="2729.8" y1="476" x2="2929.8" y2="476" stroke="#2e2e2e" stroke-width="0.9"/>
<line x1="2729.8" y1="476" x2="2729.8" y2="740.6" stroke="#2e2e2e" stroke-width="0.9"/>
<line x1="2934.8" y1="476" x2="2934.8" y2="740.6" stroke="#2e2e2e" stroke-width="0.9"/>
<line x1="2869" y1="476" x2="2869" y2="740.6" stroke="#2e2e2e" stroke-width="2"/>
<line x1="2726" y1="737.5" x2="2938" y2="737.5" stroke="#2e2e2e" stroke-width="0.9"/>
<rect x="2762.6" y="740.6" width="12" height="6.5" rx="2" stroke="#2e2e2e" stroke-width="1" fill="#fff"/>
<rect x="2889.7" y="740.6" width="12" height="6.5" rx="2" stroke="#2e2e2e" stroke-width="1" fill="#fff"/>
<circle cx="2799.2" cy="542.1" r="61.2" stroke="none" stroke-width="0" fill="#fff"/>
<circle cx="2799.2" cy="542.1" r="59.9" stroke="#a8a8a8" stroke-width="2.6" fill="none"/>
<circle cx="2799.2" cy="542.1" r="61.2" stroke="#2e2e2e" stroke-width="1.2" fill="none"/>
<circle cx="2799.2" cy="542.1" r="58.6" stroke="#2e2e2e" stroke-width="1.1" fill="none"/>
<path d="M2809.17,542.88 L2857.62,546.7 M2808.92,544.43 L2856.18,555.78 M2808.44,545.93 L2853.34,564.53 M2807.73,547.32 L2849.16,572.72 M2806.8,548.59 L2843.76,580.16 M2805.69,549.7 L2837.26,586.66 M2804.42,550.63 L2829.82,592.06 M2803.03,551.34 L2821.63,596.24 M2801.53,551.82 L2812.88,599.08 M2799.98,552.07 L2803.8,600.52 M2798.42,552.07 L2794.6,600.52 M2796.87,551.82 L2785.52,599.08 M2795.37,551.34 L2776.77,596.24 M2793.98,550.63 L2768.58,592.06 M2792.71,549.7 L2761.14,586.66 M2791.6,548.59 L2754.64,580.16 M2790.67,547.32 L2749.24,572.72 M2789.96,545.93 L2745.06,564.53 M2789.48,544.43 L2742.22,555.78 M2789.23,542.88 L2740.78,546.7 M2789.23,541.32 L2740.78,537.5 M2789.48,539.77 L2742.22,528.42 M2789.96,538.27 L2745.06,519.67 M2790.67,536.88 L2749.24,511.48 M2791.6,535.61 L2754.64,504.04 M2792.71,534.5 L2761.14,497.54 M2793.98,533.57 L2768.58,492.14 M2795.37,532.86 L2776.77,487.96 M2796.87,532.38 L2785.52,485.12 M2798.42,532.13 L2794.6,483.68 M2799.98,532.13 L2803.8,483.68 M2801.53,532.38 L2812.88,485.12 M2803.03,532.86 L2821.63,487.96 M2804.42,533.57 L2829.82,492.14 M2805.69,534.5 L2837.26,497.54 M2806.8,535.61 L2843.76,504.04 M2807.73,536.88 L2849.16,511.48 M2808.44,538.27 L2853.34,519.67 M2808.92,539.77 L2856.18,528.42 M2809.17,541.32 L2857.62,537.5" stroke="#222" stroke-width="1.3" fill="none"/>
<circle cx="2799.2" cy="542.1" r="11.5" stroke="#262626" stroke-width="1.15" fill="none"/>
<circle cx="2799.2" cy="542.1" r="16.55" stroke="#262626" stroke-width="1.15" fill="none"/>
<circle cx="2799.2" cy="542.1" r="21.6" stroke="#262626" stroke-width="1.15" fill="none"/>
<circle cx="2799.2" cy="542.1" r="26.65" stroke="#262626" stroke-width="1.15" fill="none"/>
<circle cx="2799.2" cy="542.1" r="31.7" stroke="#262626" stroke-width="1.15" fill="none"/>
<circle cx="2799.2" cy="542.1" r="36.75" stroke="#262626" stroke-width="1.15" fill="none"/>
<circle cx="2799.2" cy="542.1" r="41.8" stroke="#262626" stroke-width="1.15" fill="none"/>
<circle cx="2799.2" cy="542.1" r="46.85" stroke="#262626" stroke-width="1.15" fill="none"/>
<circle cx="2799.2" cy="542.1" r="51.9" stroke="#262626" stroke-width="1.15" fill="none"/>
<circle cx="2799.2" cy="542.1" r="56.95" stroke="#262626" stroke-width="1.15" fill="none"/>
<circle cx="2799.2" cy="542.1" r="8.8" stroke="#222" stroke-width="1.8" fill="#fff"/>
<circle cx="2798.9" cy="670" r="61.2" stroke="none" stroke-width="0" fill="#fff"/>
<circle cx="2798.9" cy="670" r="59.9" stroke="#a8a8a8" stroke-width="2.6" fill="none"/>
<circle cx="2798.9" cy="670" r="61.2" stroke="#2e2e2e" stroke-width="1.2" fill="none"/>
<circle cx="2798.9" cy="670" r="58.6" stroke="#2e2e2e" stroke-width="1.1" fill="none"/>
<path d="M2808.87,670.78 L2857.32,674.6 M2808.62,672.33 L2855.88,683.68 M2808.14,673.83 L2853.04,692.43 M2807.43,675.22 L2848.86,700.62 M2806.5,676.49 L2843.46,708.06 M2805.39,677.6 L2836.96,714.56 M2804.12,678.53 L2829.52,719.96 M2802.73,679.24 L2821.33,724.14 M2801.23,679.72 L2812.58,726.98 M2799.68,679.97 L2803.5,728.42 M2798.12,679.97 L2794.3,728.42 M2796.57,679.72 L2785.22,726.98 M2795.07,679.24 L2776.47,724.14 M2793.68,678.53 L2768.28,719.96 M2792.41,677.6 L2760.84,714.56 M2791.3,676.49 L2754.34,708.06 M2790.37,675.22 L2748.94,700.62 M2789.66,673.83 L2744.76,692.43 M2789.18,672.33 L2741.92,683.68 M2788.93,670.78 L2740.48,674.6 M2788.93,669.22 L2740.48,665.4 M2789.18,667.67 L2741.92,656.32 M2789.66,666.17 L2744.76,647.57 M2790.37,664.78 L2748.94,639.38 M2791.3,663.51 L2754.34,631.94 M2792.41,662.4 L2760.84,625.44 M2793.68,661.47 L2768.28,620.04 M2795.07,660.76 L2776.47,615.86 M2796.57,660.28 L2785.22,613.02 M2798.12,660.03 L2794.3,611.58 M2799.68,660.03 L2803.5,611.58 M2801.23,660.28 L2812.58,613.02 M2802.73,660.76 L2821.33,615.86 M2804.12,661.47 L2829.52,620.04 M2805.39,662.4 L2836.96,625.44 M2806.5,663.51 L2843.46,631.94 M2807.43,664.78 L2848.86,639.38 M2808.14,666.17 L2853.04,647.57 M2808.62,667.67 L2855.88,656.32 M2808.87,669.22 L2857.32,665.4" stroke="#222" stroke-width="1.3" fill="none"/>
<circle cx="2798.9" cy="670" r="11.5" stroke="#262626" stroke-width="1.15" fill="none"/>
<circle cx="2798.9" cy="670" r="16.55" stroke="#262626" stroke-width="1.15" fill="none"/>
<circle cx="2798.9" cy="670" r="21.6" stroke="#262626" stroke-width="1.15" fill="none"/>
<circle cx="2798.9" cy="670" r="26.65" stroke="#262626" stroke-width="1.15" fill="none"/>
<circle cx="2798.9" cy="670" r="31.7" stroke="#262626" stroke-width="1.15" fill="none"/>
<circle cx="2798.9" cy="670" r="36.75" stroke="#262626" stroke-width="1.15" fill="none"/>
<circle cx="2798.9" cy="670" r="41.8" stroke="#262626" stroke-width="1.15" fill="none"/>
<circle cx="2798.9" cy="670" r="46.85" stroke="#262626" stroke-width="1.15" fill="none"/>
<circle cx="2798.9" cy="670" r="51.9" stroke="#262626" stroke-width="1.15" fill="none"/>
<circle cx="2798.9" cy="670" r="56.95" stroke="#262626" stroke-width="1.15" fill="none"/>
<circle cx="2798.9" cy="670" r="8.8" stroke="#222" stroke-width="1.8" fill="#fff"/>
<rect x="2736.3" y="607.9" width="23.4" height="11.7" rx="0" stroke="#2e2e2e" stroke-width="1.1" fill="#fff"/>
<rect x="2739" y="610.5" width="18" height="6.5" rx="0" stroke="#2e2e2e" stroke-width="0.8" fill="none"/>
<rect x="2879" y="483.9" width="46.7" height="243.8" rx="5" stroke="#2e2e2e" stroke-width="1.1" fill="#fff"/>
<rect x="2882" y="487" width="40.7" height="237.8" rx="4" stroke="#2e2e2e" stroke-width="0.8" fill="none"/>
<rect x="2888" y="579.6" width="29.4" height="3.6" rx="1.8" stroke="#2e2e2e" stroke-width="1" fill="#fff"/>
<rect x="2888" y="592.6" width="29.4" height="3.6" rx="1.8" stroke="#2e2e2e" stroke-width="1" fill="#fff"/>
<rect x="2888" y="646.4" width="29.4" height="3.6" rx="1.8" stroke="#2e2e2e" stroke-width="1" fill="#fff"/>
<rect x="2888" y="658.9" width="29.4" height="3.6" rx="1.8" stroke="#2e2e2e" stroke-width="1" fill="#fff"/>
<rect x="2888" y="671.8" width="29.4" height="3.6" rx="1.8" stroke="#2e2e2e" stroke-width="1" fill="#fff"/>
<rect x="2888" y="684.3" width="29.4" height="3.6" rx="1.8" stroke="#2e2e2e" stroke-width="1" fill="#fff"/>
<rect x="2888" y="697.2" width="29.4" height="3.6" rx="1.8" stroke="#2e2e2e" stroke-width="1" fill="#fff"/>
<rect x="2888" y="709.7" width="29.4" height="3.6" rx="1.8" stroke="#2e2e2e" stroke-width="1" fill="#fff"/>
<rect x="2892" y="610.5" width="22.8" height="12.5" rx="0" stroke="#2e2e2e" stroke-width="1.1" fill="#fff"/>
<rect x="2894.5" y="613" width="17.8" height="7.5" rx="0" stroke="#2e2e2e" stroke-width="0.8" fill="none"/>
<path d="M2938,524 L2946,526 L2946,531 L2941,533 L2941,548 L2938,550" stroke="#2e2e2e" stroke-width="1.2" fill="none"/>
<rect x="2938" y="701.5" width="8" height="8" rx="0" stroke="#2e2e2e" stroke-width="1.1" fill="#fff"/>
<rect x="2938" y="714" width="8" height="9" rx="0" stroke="#2e2e2e" stroke-width="1.1" fill="#fff"/>
<rect x="2938" y="736" width="5" height="7" rx="0" stroke="#2e2e2e" stroke-width="1" fill="#fff"/>
<g style="font-feature-settings:'halt'">
<text x="2391" y="597.2" font-size="15" fill="#5a5a5a" text-anchor="start" textLength="78" lengthAdjust="spacingAndGlyphs">回水口 R 3/4</text>
<text x="2391" y="620" font-size="15" fill="#5a5a5a" text-anchor="start" textLength="78" lengthAdjust="spacingAndGlyphs">补水口 R 3/4</text>
<text x="2383.6" y="642.6" font-size="15" fill="#5a5a5a" text-anchor="start" textLength="85.4" lengthAdjust="spacingAndGlyphs">供水口 Rp 5/4</text>
</g>
<line x1="2391" y1="600.5" x2="2470" y2="600.5" stroke="#777" stroke-width="0.9"/>
<line x1="2470" y1="600.5" x2="2524" y2="677" stroke="#777" stroke-width="0.9"/>
<line x1="2391" y1="623.3" x2="2470" y2="623.3" stroke="#777" stroke-width="0.9"/>
<line x1="2470" y1="623.3" x2="2524" y2="695" stroke="#777" stroke-width="0.9"/>
<line x1="2388" y1="645.8" x2="2470" y2="645.8" stroke="#777" stroke-width="0.9"/>
<line x1="2470" y1="645.8" x2="2531" y2="720" stroke="#777" stroke-width="0.9"/>
<line x1="2457.7" y1="677.8" x2="2527" y2="677.8" stroke="#777" stroke-width="0.9"/>
<text x="0" y="0" font-size="15.5" fill="#444" text-anchor="middle" dominant-baseline="central" textLength="23.5" lengthAdjust="spacingAndGlyphs" transform="translate(2439.6 678.3) rotate(0)">396</text>
<line x1="2457.7" y1="697.3" x2="2527" y2="697.3" stroke="#777" stroke-width="0.9"/>
<text x="0" y="0" font-size="15.5" fill="#444" text-anchor="middle" dominant-baseline="central" textLength="23.5" lengthAdjust="spacingAndGlyphs" transform="translate(2439.6 698.9) rotate(0)">306</text>
<line x1="2457.7" y1="721.5" x2="2527" y2="721.5" stroke="#777" stroke-width="0.9"/>
<text x="0" y="0" font-size="15.5" fill="#444" text-anchor="middle" dominant-baseline="central" textLength="23.5" lengthAdjust="spacingAndGlyphs" transform="translate(2439.6 723.7) rotate(0)">186</text>
<line x1="2457.7" y1="760" x2="2506" y2="760" stroke="#777" stroke-width="0.9"/>
<text x="0" y="0" font-size="15.5" fill="#444" text-anchor="middle" dominant-baseline="central" textLength="8" lengthAdjust="spacingAndGlyphs" transform="translate(2448 760) rotate(0)">0</text>
<line x1="2459.5" y1="677.8" x2="2459.5" y2="760" stroke="#777" stroke-width="0.9"/>
<polygon points="2459.5,677.8 2461.7,689.8 2457.3,689.8" stroke="none" stroke-width="0" fill="#444"/>
<polygon points="2459.5,697.3 2461.7,709.3 2457.3,709.3" stroke="none" stroke-width="0" fill="#444"/>
<polygon points="2459.5,721.5 2461.7,733.5 2457.3,733.5" stroke="none" stroke-width="0" fill="#444"/>
<circle cx="2459.5" cy="760" r="2" stroke="#444" stroke-width="1" fill="#fff"/>
<line x1="2506.7" y1="748" x2="2506.7" y2="781" stroke="#777" stroke-width="0.9"/>
<line x1="2524.5" y1="700" x2="2524.5" y2="781" stroke="#777" stroke-width="0.9"/>
<line x1="2532.6" y1="727" x2="2535.5" y2="747" stroke="#777" stroke-width="0.9"/>
<line x1="2535.5" y1="747" x2="2543.3" y2="758" stroke="#777" stroke-width="0.9"/>
<line x1="2543.3" y1="758" x2="2543.3" y2="781" stroke="#777" stroke-width="0.9"/>
<line x1="2506.7" y1="778.8" x2="2545" y2="778.8" stroke="#777" stroke-width="0.9"/>
<circle cx="2506.7" cy="778.8" r="2" stroke="#444" stroke-width="1" fill="#fff"/>
<polygon points="2524.3,778.8 2512.3,781 2512.3,776.6" stroke="none" stroke-width="0" fill="#444"/>
<polygon points="2543.5,778.8 2531.5,781 2531.5,776.6" stroke="none" stroke-width="0" fill="#444"/>
<text x="0" y="0" font-size="15" fill="#444" text-anchor="middle" dominant-baseline="central" textLength="8" lengthAdjust="spacingAndGlyphs" transform="translate(2505.4 792) rotate(-90)">0</text>
<text x="0" y="0" font-size="15" fill="#444" text-anchor="middle" dominant-baseline="central" textLength="15" lengthAdjust="spacingAndGlyphs" transform="translate(2524.9 796.3) rotate(-90)">85</text>
<text x="0" y="0" font-size="15" fill="#444" text-anchor="middle" dominant-baseline="central" textLength="23" lengthAdjust="spacingAndGlyphs" transform="translate(2543.5 800.5) rotate(-90)">125</text>
</svg></body></html>
